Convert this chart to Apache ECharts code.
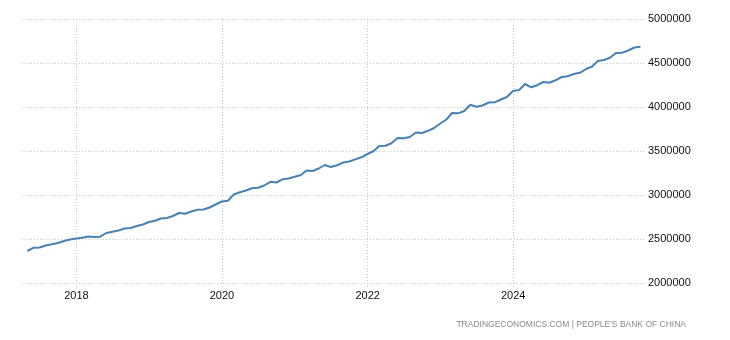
<!DOCTYPE html>
<html>
<head>
<meta charset="utf-8">
<title>People's Bank of China</title>
<script src="https://cdn.jsdelivr.net/npm/echarts@6/dist/echarts.min.js"></script>
<style>
  html, body { margin: 0; padding: 0; background: #fff; }
  #chart { width: 730px; height: 340px; }
</style>
</head>
<body>
<div id="chart"></div>
<script>
// Monthly observations, April 2017 through September 2025 (month-end).
const startYear = 2017;
const startMonth = 4;
const values = [
  2363600, 2401100, 2403400, 2426100, 2439800, 2454500, 2477300, 2494300, 2505700,
  2513600, 2528400, 2522700, 2526100, 2568200, 2583000, 2596600, 2619300, 2625000, 2647700, 2664800, 2693200,
  2708000, 2733000, 2738600, 2761400, 2795500, 2787500, 2812500, 2833000, 2835200, 2858000, 2892000, 2926100,
  2935200, 3005700, 3030700, 3051100, 3076100, 3083000, 3108000, 3150000, 3142000, 3178400, 3187500, 3206800,
  3227300, 3278400, 3272700, 3301100, 3340900, 3318200, 3337500, 3369300, 3380700, 3404500, 3428400, 3465900,
  3500000, 3556800, 3560200, 3587500, 3647700, 3644300, 3659100, 3710200, 3704500, 3729500, 3761400, 3812500,
  3858000, 3931800, 3928000, 3954500, 4026100, 4003400, 4017000, 4051100, 4053400, 4085200, 4113600, 4181800,
  4193200, 4261400, 4223900, 4247700, 4284100, 4276100, 4303400, 4340900, 4348900, 4375000, 4388600, 4431800,
  4460200, 4522700, 4534100, 4560200, 4613600, 4617000, 4642000, 4676100, 4684100
];
const yearTicks = [2018, 2020, 2022, 2024];
const yTicks = [2000000, 2500000, 3000000, 3500000, 4000000, 4500000, 5000000];
const sourceText = 'TRADINGECONOMICS.COM | PEOPLE\'S BANK OF CHINA';

// month-end timestamp for the i-th observation
function monthEnd(i) {
  const m = startMonth - 1 + i;
  return Date.UTC(startYear, m + 1, 0);
}
const seriesData = values.map((v, i) => [monthEnd(i), v]);
const yearStamps = yearTicks.map(y => Date.UTC(y, 0, 1));

const chart = echarts.init(document.getElementById('chart'), null, { renderer: 'canvas' });
const gridStyle = { color: '#c8c8c8', type: [1, 2], width: 1 };
const fontFamily = '"Liberation Sans", Arial, sans-serif';

chart.setOption({
  animation: false,
  grid: { left: 22, right: 85, top: 19, bottom: 57, containLabel: false },
  xAxis: {
    type: 'value',
    min: Date.UTC(2017, 3, 3),
    max: Date.UTC(2025, 9, 23),
    axisLine: { show: false },
    axisTick: {
      show: true, length: 4, customValues: yearStamps,
      lineStyle: gridStyle
    },
    axisLabel: {
      customValues: yearStamps,
      formatter: v => String(new Date(v).getUTCFullYear()),
      color: '#111', fontSize: 11, fontFamily: fontFamily, margin: 7
    },
    splitLine: { show: true, lineStyle: gridStyle }
  },
  yAxis: {
    type: 'value',
    position: 'right',
    min: yTicks[0],
    max: yTicks[yTicks.length - 1],
    interval: 500000,
    axisLine: { show: false },
    axisTick: { show: false },
    axisLabel: {
      color: '#111', fontSize: 11, fontFamily: fontFamily, margin: 3,
      formatter: v => String(v)
    },
    splitLine: { show: true, lineStyle: gridStyle }
  },
  series: [{
    type: 'line',
    data: seriesData,
    showSymbol: false,
    smooth: false,
    lineStyle: { color: '#4682b4', width: 2 },
    itemStyle: { color: '#4682b4' }
  }],
  graphic: [{
    type: 'text',
    right: 44,
    top: 320,
    style: {
      text: sourceText,
      fill: '#8a8a8a',
      font: '8.5px ' + fontFamily
    }
  }]
});
</script>
</body>
</html>
